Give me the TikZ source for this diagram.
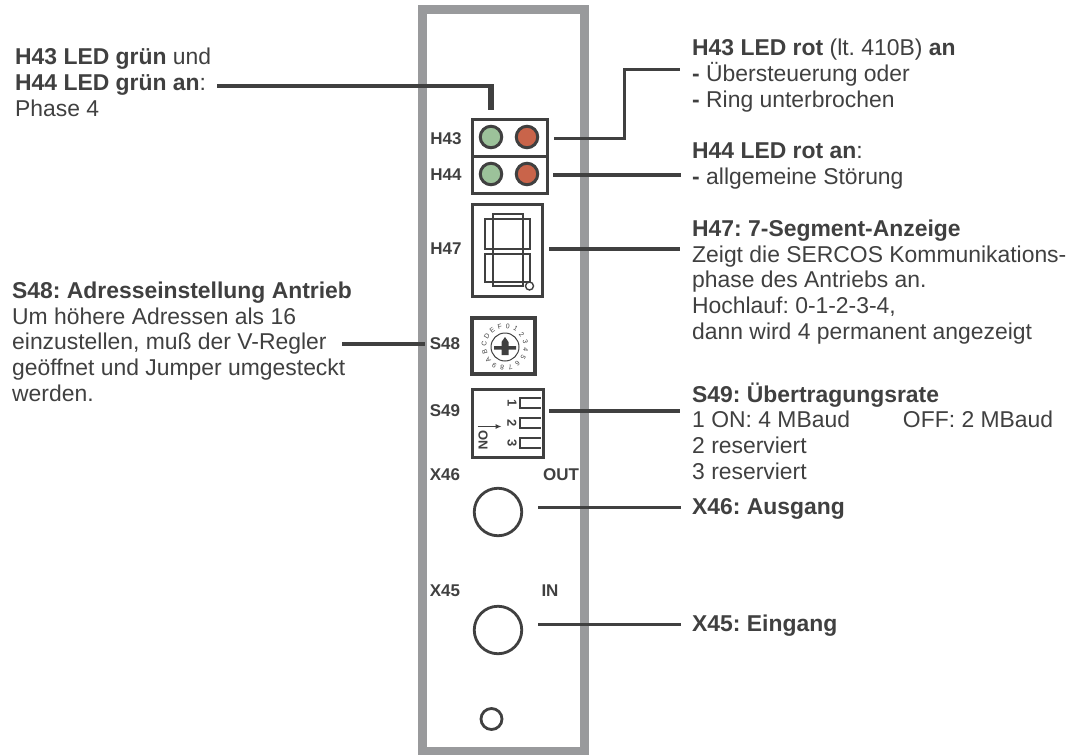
\documentclass[tikz,border=0pt]{standalone}
\usepackage{fontspec}
\setmainfont{Liberation Sans}
\usepackage{xcolor}
\usetikzlibrary{arrows.meta,calc,positioning}
\definecolor{inkgrey}{HTML}{404040}
\definecolor{panelgrey}{HTML}{999A9C}
\definecolor{ledgreen}{HTML}{9CC29A}
\definecolor{ledred}{HTML}{C9644A}
\frenchspacing
\begin{document}
\begin{tikzpicture}[
  x=1pt, y=-1pt,
  every node/.style={text=inkgrey},
  note/.style={anchor=base west, align=left, inner sep=0pt, font=\fontsize{22.9}{25.6}\selectfont},
  tag/.style={inner sep=0pt, font=\fontsize{17}{18}\selectfont\bfseries},
  leader/.style={line width=3.3pt, draw=inkgrey},
  thick leader/.style={line width=4pt, draw=inkgrey},
  frame/.style={line width=3pt, draw=inkgrey},
  led/.style={circle, minimum size=21.5pt, inner sep=0pt, line width=3pt, draw=inkgrey},
  segment/.style={line width=2.6pt, draw=inkgrey},
  tab/.style={line width=2.8pt, draw=inkgrey},
  socket/.style={circle, inner sep=0pt, line width=2.8pt, draw=inkgrey, fill=white},
  dial/.style={inner sep=0pt, font=\fontsize{6.8}{7}\selectfont}
]
  \useasboundingbox (0,0) rectangle (1080,755);
  % panel
  \draw[line width=9pt, draw=panelgrey] (422,9.5) rectangle (584,751);

  % LED block
  \draw[frame] (472,119) rectangle (547,193);
  \draw[frame] (472,156) -- (547,156);
  \node[led, fill=ledgreen] (h43g) at (491,137) {};
  \node[led, fill=ledred] (h43r) at (527,137) {};
  \node[led, fill=ledgreen] (h44g) at (491,174) {};
  \node[led, fill=ledred] (h44r) at (527,174) {};
  \node[tag] (lh43) at (446,139) {H43};
  \node[tag] (lh44) at (446,175) {H44};

  % 7 segment
  \draw[frame] (472,204) rectangle (542,296);
  \draw[segment] (493,214) rectangle (523,219);
  \draw[segment] (485,219) rectangle (493,249);
  \draw[segment] (523,219) rectangle (530,249);
  \draw[segment] (493,249) rectangle (523,254);
  \draw[segment] (485,254) rectangle (493,282);
  \draw[segment] (523,254) rectangle (530,282);
  \draw[segment] (493,282) rectangle (523,286);
  \node[socket, minimum size=8pt, line width=1.4pt] (dp) at (529.5,286) {};
  \node[tag] (lh47) at (446,249) {H47};

  % S48 rotary switch
  \draw[frame, line width=3.4pt] (472,318) rectangle (535,374);
  \node[circle, minimum size=28pt, inner sep=0pt, line width=1pt, draw=inkgrey] (rotor) at (505,347) {};
  \foreach \lab [count=\i from 0] in {0,1,2,3,4,5,6,7,8,9,A,B,C,D,E,F}
    \node[dial, rotate=-22.5*\i-8] (d\i) at ($(rotor)+({21*sin(22.5*\i+8)},{-21*cos(22.5*\i+8)})$) {\lab};
  \fill[inkgrey] (501.5,342) -- (505,337) -- (508.5,342) -- (508.5,346) -- (516,346) -- (516,349.5) -- (508.5,349.5)
    -- (508.5,355) -- (501.5,355) -- (501.5,349.5) -- (494,349.5) -- (494,346) -- (501.5,346) -- cycle;
  \node[tag] (ls48) at (445,344) {S48};

  % S49 dip switch
  \draw[frame] (472,389) rectangle (543,457);
  \foreach \ypos/\lab in {398/1,418/2,438/3} {
    \draw[tab] (541,\ypos) -- (520,\ypos) -- (520,\ypos+10) -- (541,\ypos+10);
    \node[dial, font=\fontsize{13}{13}\selectfont\bfseries, rotate=-90] at (512,\ypos+5) {\lab};
  }
  \draw[-{Latex[length=6pt,width=5pt]}, line width=1pt, draw=inkgrey] (477.5,426.5) -- (501.5,426.5);
  \node[dial, font=\fontsize{13}{13}\selectfont\bfseries, rotate=-90] (lon) at (483,440) {ON};
  \node[tag] (ls49) at (445,411) {S49};

  % sockets
  \node[tag] (lx46) at (445,475) {X46};
  \node[tag] (lout) at (561,475) {OUT};
  \node[socket, minimum size=47.5pt] (x46) at (498,512) {};
  \node[tag] (lx45) at (445,591) {X45};
  \node[tag] (lin) at (550,591) {IN};
  \node[socket, minimum size=47.5pt] (x45) at (498,630) {};
  \node[socket, minimum size=21pt] (hole) at (491.5,719) {};

  % texts
  \node[note] (th4344) at (15,116) {\textbf{H43 LED grün} und\\\textbf{H44 LED grün an}:\\Phase 4};
  \node[note] (ts48) at (12,401) {\textbf{S48: Adresseinstellung Antrieb}\\Um höhere Adressen als 16\\einzustellen, muß der V-Regler\\geöffnet und Jumper umgesteckt\\werden.};
  \node[note] (th43) at (692,107) {\textbf{H43 LED rot} (lt. 410B) \textbf{an}\\\textbf{-} Übersteuerung oder\\\textbf{-} Ring unterbrochen};
  \node[note] (th44) at (692,184) {\textbf{H44 LED rot an}:\\\textbf{-} allgemeine Störung};
  \node[note] (th47) at (692,339) {\textbf{H47: 7-Segment-Anzeige}\\Zeigt die SERCOS Kommunikations-\\phase des Antriebs an.\\Hochlauf: 0-1-2-3-4,\\dann wird 4 permanent angezeigt};
  \node[note] (ts49) at (692,479) {\textbf{S49: Übertragungsrate}\\1 ON: 4 MBaud\hspace{53pt}OFF: 2 MBaud\\2 reserviert\\3 reserviert};
  \node[note] (tx46) at (692,514) {\textbf{X46: Ausgang}};
  \node[note] (tx45) at (692,631) {\textbf{X45: Eingang}};

  % leaders
  \coordinate (ah43) at (554,138);
  \coordinate (ah44) at (553,175);
  \coordinate (ah47) at (549,249);
  \coordinate (as49) at (549,411);
  \coordinate (ax46) at (538,507.6);
  \coordinate (ax45) at (538,624.6);
  \coordinate (al) at (217,86);
  \coordinate (as48) at (342,344);
  \draw[leader, line width=3pt] (ah43) -| (624,69) -- (680,69);
  \draw[thick leader] (ah44) -- (681,175);
  \draw[thick leader] (ah47) -- (680,249);
  \draw[leader] (as49) -- (680,411);
  \draw[leader] (ax46) -- (680.5,507.6);
  \draw[leader] (ax45) -- (680.5,624.6);
  \draw[thick leader, line width=4.5pt] (al) -- (488.5,86);
  \draw[thick leader, line width=6pt] (491,84) -- (491,110);
  \draw[thick leader] (as48) -- (425,344);
\end{tikzpicture}
\end{document}
